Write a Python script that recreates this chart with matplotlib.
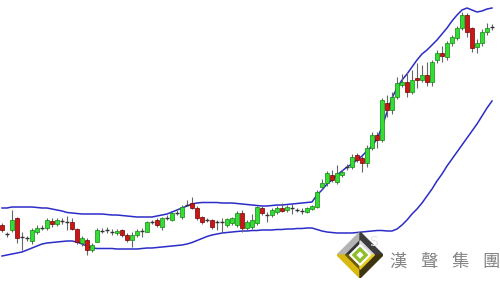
import matplotlib
matplotlib.use("Agg")
import matplotlib.pyplot as plt
from matplotlib.patches import Polygon

# OHLC (prices)
opens = [57, 48.5, 52, 64, 45.5, 44, 41, 50, 54, 54,
         61, 58, 61, 60, 60, 53, 39, 42, 32, 40,
         51, 52, 50.5, 49, 52, 47, 42, 47, 51, 50,
         60, 62, 55, 64, 62, 69, 65, 77, 79, 74,
         65, 62, 62, 60, 60.5, 57, 59, 57, 69, 54,
         55, 59, 74, 67, 67, 70, 74, 72, 74, 72,
         71, 70, 73, 75, 95, 99, 107, 100, 107, 115,
         115, 127, 124, 119, 134, 147, 142, 179, 172, 185,
         197, 200, 190, 204, 202, 207, 200, 222, 229, 225,
         239, 244, 254, 267, 254, 235, 239, 250, 255]
highs = [59, 50, 72, 65, 50, 46, 54, 57, 57, 64,
         64, 64, 64, 66, 64, 54, 46, 44, 39, 54,
         54, 55, 53, 53, 53, 49, 50, 53, 54, 61,
         62, 64, 65, 67, 70, 72, 77, 82, 85, 76,
         66, 64, 63, 62, 64, 64, 65, 71, 72, 62,
         68, 76, 76, 70, 74, 76, 79, 77, 78, 74,
         74, 75, 77, 92, 103, 111, 112, 117, 112, 118,
         128, 129, 126, 137, 150, 150, 184, 187, 190, 205,
         208, 210, 212, 219, 217, 220, 222, 232, 236, 241,
         247, 256, 270, 269, 255, 243, 253, 259, 258]
lows = [50, 45, 50, 39, 32, 41, 38, 48, 52, 52,
        55, 56, 58, 52, 52, 38, 36, 27, 30, 40,
        49, 49, 47, 47, 45, 40, 35, 45, 45, 50,
        58, 55, 52, 62, 61, 67, 63, 76, 73, 62,
        58, 60, 53, 52, 50, 55, 57, 55, 50, 52,
        53, 57, 67, 60, 65, 68, 70, 70, 68, 70,
        68, 69, 72, 74, 93, 96, 100, 98, 105, 112,
        113, 120, 110, 115, 132, 134, 140, 165, 168, 183,
        195, 185, 188, 194, 200, 196, 196, 219, 220, 222,
        236, 242, 252, 245, 230, 229, 236, 247, 252]
closes = [52, 48, 62, 44, 45, 44.5, 52, 54, 54.5, 62,
          58, 62, 61.5, 60.5, 53, 40, 44, 32, 37, 52,
          51.5, 52.5, 50, 51, 47, 42, 47, 51, 51.5, 60,
          60.5, 57, 64, 64.5, 69, 69.5, 75, 77.5, 74, 64,
          60, 62.5, 55, 60.5, 60, 63, 64, 69, 54, 60,
          62, 75, 69, 67.5, 72, 74, 71, 75, 74.5, 72.5,
          71.5, 74, 76, 90, 99, 109, 102, 109, 110, 115.5,
          125, 122, 119, 134, 147, 142, 182, 172, 185, 199,
          200, 190, 202, 202, 207, 200, 220, 229, 226, 239,
          245, 254, 267, 250, 234, 239, 250, 254, 255.5]

# Bollinger bands as drawn
upper_band = [74, 74, 75, 75, 75, 75, 75, 74.5, 74, 74,
              73, 72, 71, 69.5, 69, 68.5, 68, 68, 68, 68,
              68, 67.5, 67, 67, 66.5, 66, 65.5, 65, 65, 65,
              65, 66, 67, 68, 70, 72, 74, 76, 78, 79,
              79.5, 79.5, 79.5, 79.5, 79, 79, 79, 78.5, 78, 77.5,
              77, 76.5, 76, 76, 76.5, 77, 77, 77.5, 78, 78.5,
              79, 79.5, 80, 87, 92, 98, 102, 107, 111, 115,
              118, 122, 126, 131, 136, 143, 155, 170, 184, 194,
              202, 208, 215, 222, 228, 232, 237, 242, 248, 254,
              261, 267, 272, 274, 272, 270, 271, 273, 274]
lower_band = [26, 27, 28, 29, 30, 32, 34, 36, 38, 39,
              39.5, 40, 40.5, 41, 41, 40, 38, 36, 34, 33.5,
              33.5, 33.5, 33.5, 33, 33, 33, 33, 33, 33.5, 34,
              34, 34.5, 35, 35.5, 36, 36.5, 37, 38, 39.5, 41.5,
              43.5, 45.5, 47, 48, 49, 49.5, 50, 50.5, 51, 51,
              51.5, 51.5, 52, 52, 52, 52.5, 52.5, 53, 53, 53.5,
              53.5, 54, 54, 52.5, 51, 50, 49.5, 49, 49, 49,
              49, 49.5, 50, 50.5, 51, 51.5, 51.5, 51, 51, 53,
              57, 62, 68, 73, 79, 86, 93, 101, 108, 116,
              123, 130, 137, 144, 151, 158, 166, 174, 181]

logo_text = ["漢", "聲", "集", "團"]

fig = plt.figure(figsize=(5, 2.82), dpi=100)
ax = fig.add_axes([0, 0, 1, 1])
ax.set_xlim(-0.4, 99.6)
ax.set_ylim(0, 282)
ax.axis('off')

idx = list(range(len(opens)))

# bands
ax.plot(idx, upper_band, color='#2c2cc8', lw=1.1, zorder=1)
ax.plot(idx, lower_band, color='#2c2cc8', lw=1.1, zorder=1)

# candles
for i in idx:
    o, h, l, c = opens[i], highs[i], lows[i], closes[i]
    ax.vlines(i, l, h, color='#666666', lw=0.8, zorder=2)
    if abs(c - o) < 1:
        ax.hlines((o + c) / 2, i - 0.4, i + 0.4, color='#333333', lw=1.0, zorder=3)
    elif c > o:
        ax.bar(i, c - o, bottom=o, width=0.8, color='#33dd33',
               edgecolor='#118811', lw=0.5, zorder=3)
    else:
        ax.bar(i, o - c, bottom=c, width=0.8, color='#cc1515',
               edgecolor='#770000', lw=0.5, zorder=3)

# watermark logo
lax = fig.add_axes([337 / 500, 4 / 282, 46 / 500, 46 / 282])
lax.set_xlim(-1, 1)
lax.set_ylim(-1, 1)
lax.axis('off')


def ring_faces(a, b, cols):
    # four sides of a diamond frame between half-sizes a (outer) and b (inner)
    tl = [(-a, 0), (0, a), (0, b), (-b, 0)]
    tr = [(0, a), (a, 0), (b, 0), (0, b)]
    bl = [(-a, 0), (0, -a), (0, -b), (-b, 0)]
    br = [(0, -a), (a, 0), (b, 0), (0, -b)]
    for pts, col in zip([tl, tr, bl, br], cols):
        lax.add_patch(Polygon(pts, closed=True, color=col))


ring_faces(1.0, 0.62, ['#b4b4b4', '#3c3c3c', '#d9b810', '#3d3510'])
ring_faces(0.62, 0.45, ['#333333', '#dcdcdc', '#6b5a08', '#e8cc20'])
lax.add_patch(Polygon([(0, 0.45), (0.45, 0), (0, -0.45), (-0.45, 0)], closed=True, color='white'))
lax.add_patch(Polygon([(0, 0.26), (0.26, 0), (0, -0.26), (-0.26, 0)], closed=True,
                      facecolor='white', edgecolor='#8cbf2a', lw=2.4))

fig.text(373 / 500, 1 - 242 / 282, "S", color='#e6e6e6', fontsize=10,
         ha='center', va='center')
for j, ch in enumerate(logo_text):
    fig.text((398 + j * 31) / 500, 1 - 262 / 282, ch, color='#858585',
             fontsize=12.5, ha='center', va='center',
             family=['Noto Sans CJK TC', 'DejaVu Sans'])

fig.savefig('out.png', dpi=100)
